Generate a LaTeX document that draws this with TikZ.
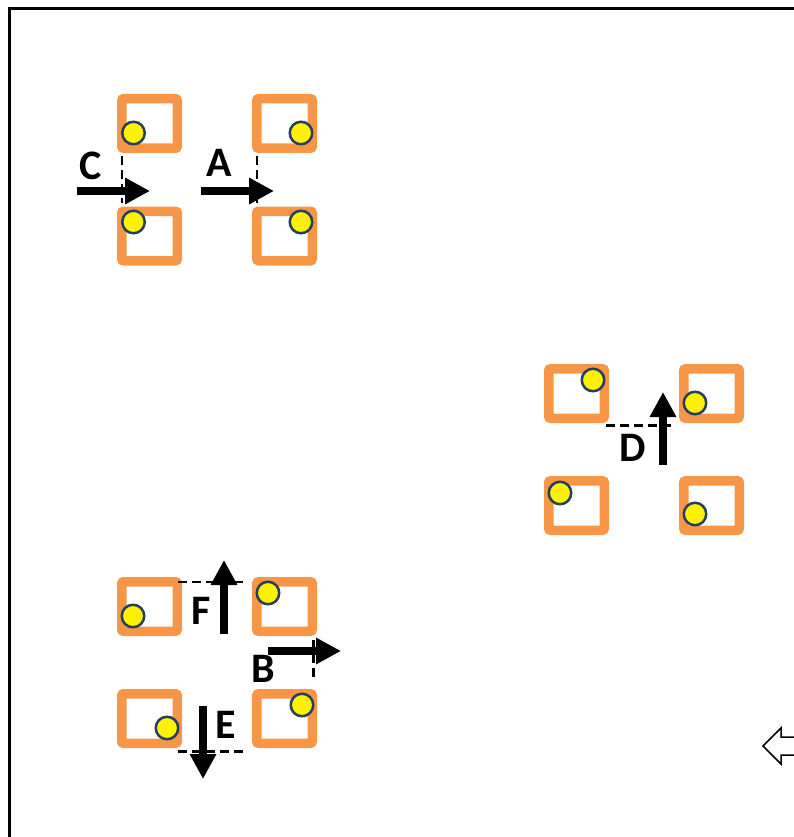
\documentclass[tikz,border=0pt]{standalone}
\usepackage{fontspec}
\setmainfont{Carlito}
\usepackage{xcolor}
\usetikzlibrary{positioning,arrows.meta,calc}
\definecolor{boxorange}{HTML}{F79646}
\definecolor{pinedge}{HTML}{243F60}

\begin{document}
\begin{tikzpicture}[x=1pt, y=-1pt,
  cell/.style={draw=boxorange, line width=9.5pt, rounded corners=2pt,
    minimum width=55.5pt, minimum height=49.5pt, inner sep=0pt, outer sep=0pt},
  pin/.style={circle, draw=pinedge, line width=2.5pt, fill=yellow,
    minimum size=22.5pt, inner sep=0pt},
  bigarrow/.style={line width=8pt, -{Triangle[length=25pt,width=25pt]}},
  gap/.style={line width=2.5pt, dash pattern=on 9pt off 5pt},
  tag/.style={font=\fontsize{42}{42}\selectfont\bfseries, inner sep=0pt}]
\useasboundingbox (0,0) rectangle (794,837);
\clip (0,0) rectangle (794,837);
% frame
\draw[line width=3pt] (9,850) -- (9,9) -- (810,9);

% group top left (C, A)
\node[cell] (t11) at (149.5,123.5) {};
\node[cell] (t21) at (149.5,236) {};
\node[cell] (t12) at (284.5,123.5) {};
\node[cell] (t22) at (284.5,236) {};
\node[pin] (pt11) at (133.5,133) {};
\node[pin] (pt21) at (133.5,222) {};
\node[pin] (pt12) at (301,133) {};
\node[pin] (pt22) at (301,222) {};
\draw[gap] ($(t11.south west)+(0,8)$) -- ($(t21.north west)+(0,-8)$);
\draw[gap] ($(t12.south west)+(0,8)$) -- ($(t22.north west)+(0,-8)$);
\coordinate (c0) at (77,191);
\coordinate (c1) at (150,191);
\coordinate (a0) at (201,191);
\coordinate (a1) at (274,191);
\draw[bigarrow] (c0) -- (c1);
\draw[bigarrow] (a0) -- (a1);
\node[tag] (lc) at (91,166) {C};
\node[tag] (la) at (219,163) {A};

% group right (D)
\node[cell] (r11) at (576.5,393.5) {};
\node[cell] (r21) at (576.5,505.5) {};
\node[cell] (r12) at (711.5,393.5) {};
\node[cell] (r22) at (711.5,505.5) {};
\node[pin] (pr11) at (593,380) {};
\node[pin] (pr21) at (560,493) {};
\node[pin] (pr12) at (695,403) {};
\node[pin] (pr22) at (695,514) {};
\draw[gap] ($(r11.south east)+(2,7)$) -- ($(r12.south west)+(-8,7)$);
\coordinate (d0) at (663,465);
\coordinate (d1) at (663,392);
\draw[bigarrow] (d0) -- (d1);
\node[tag] (ld) at (632.5,447.5) {D};

% group bottom left (F, B, E)
\node[cell] (b11) at (149.5,606.5) {};
\node[cell] (b21) at (149.5,718.5) {};
\node[cell] (b12) at (284.5,606.5) {};
\node[cell] (b22) at (284.5,718.5) {};
\node[pin] (pb11) at (133,616) {};
\node[pin] (pb21) at (167,728) {};
\node[pin] (pb12) at (268,593) {};
\node[pin] (pb22) at (302,705) {};
\draw[gap] ($(b11.north east)+(1,0)$) -- ($(b12.north west)+(-9,0)$);
\draw[gap] ($(b21.south east)+(1,8)$) -- ($(b22.south west)+(-9,8)$);
\draw[gap] ($(b12.south east)+(1,9)$) -- ($(b22.north east)+(1,-12)$);
\coordinate (f0) at (224,634);
\coordinate (f1) at (224,560);
\coordinate (b0) at (268,651);
\coordinate (b1) at (341,651);
\coordinate (e0) at (203,706);
\coordinate (e1) at (203,779);
\draw[bigarrow] (f0) -- (f1);
\draw[bigarrow] (b0) -- (b1);
\draw[bigarrow] (e0) -- (e1);
\node[tag] (lf) at (201.5,611) {F};
\node[tag] (lb) at (263,668.5) {B};
\node[tag] (le) at (226,725) {E};

% hollow arrow, cut at the edge
\draw[line width=1.5pt, fill=white] (763,746) -- (781,728) -- (781,737) -- (805,737)
  -- (805,755) -- (781,755) -- (781,764) -- cycle;
\end{tikzpicture}
\end{document}
